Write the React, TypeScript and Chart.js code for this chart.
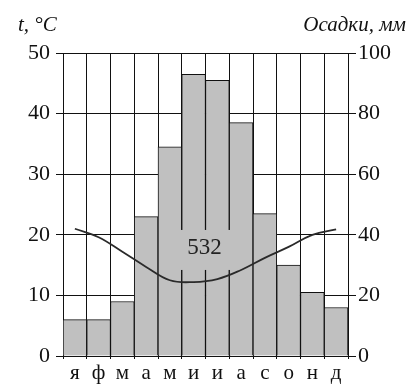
import React, { useEffect, useRef } from "react";
import { Chart, registerables } from "chart.js";

Chart.register(...registerables);

const months = ["я", "ф", "м", "а", "м", "и", "и", "а", "с", "о", "н", "д"];
const precipitation = [12, 12, 18, 46, 69, 93, 91, 77, 47, 30, 21, 16];
const temperature = [21, 19.6, 17.2, 14.7, 12.5, 12.2, 12.7, 14.2, 16.2, 18, 20, 20.9];
const tempTicks = [0, 10, 20, 30, 40, 50];
const precipTicks = [0, 20, 40, 60, 80, 100];
const totalLabel = "532";
const leftTitle = "t, °C";
const rightTitle = "Осадки, мм";

const SERIF = '"Liberation Serif", "Times New Roman", serif';

export default function App() {
  const ref = useRef<HTMLCanvasElement | null>(null);

  useEffect(() => {
    if (!ref.current) return;

    const labelBox = {
      id: "labelBox",
      afterDatasetDraw(chart: any, args: any) {
        if (args.index !== 1) return;
        const { ctx, scales } = chart;
        const x = scales.x;
        const y = scales.y;
        const x0 = x.getPixelForValue(4) + 2;
        const x1 = x.getPixelForValue(7) + 1;
        const y0 = y.getPixelForValue(20.8);
        const y1 = y.getPixelForValue(14.2);
        ctx.save();
        ctx.fillStyle = "#c0c0c0";
        ctx.fillRect(x0, y0, x1 - x0, y1 - y0);
        ctx.fillStyle = "#222";
        ctx.font = `23px ${SERIF}`;
        ctx.textAlign = "center";
        ctx.textBaseline = "middle";
        ctx.fillText(totalLabel, (x.getPixelForValue(5) + x.getPixelForValue(6)) / 2 - 1, y.getPixelForValue(17.9));
        ctx.restore();
      },
      afterDraw(chart: any) {
        const { ctx } = chart;
        ctx.save();
        ctx.fillStyle = "#111";
        ctx.font = `italic 21px ${SERIF}`;
        ctx.textBaseline = "alphabetic";
        ctx.textAlign = "left";
        ctx.fillText(leftTitle, 18, 31);
        ctx.textAlign = "right";
        ctx.fillText(rightTitle, 406, 31);
        ctx.restore();
      },
    };

    const chart = new Chart(ref.current, {
      type: "bar",
      data: {
        labels: months,
        datasets: [
          {
            type: "line",
            data: temperature,
            yAxisID: "y",
            borderColor: "#2a2a2a",
            borderWidth: 1.8,
            pointRadius: 0,
            tension: 0.4,
            fill: false,
          } as any,
          {
            type: "bar",
            data: precipitation,
            yAxisID: "y1",
            backgroundColor: "#c0c0c0",
            borderColor: "#111",
            borderWidth: 1,
            borderSkipped: "bottom",
            barPercentage: 1,
            categoryPercentage: 1,
          },
        ],
      },
      plugins: [labelBox],
      options: {
        responsive: false,
        animation: false,
        layout: { padding: { top: 53, left: 0, right: 0, bottom: 0 } },
        plugins: {
          legend: { display: false },
          tooltip: { enabled: false },
        },
        scales: {
          x: {
            offset: true,
            grid: {
              display: true,
              offset: true,
              color: "#111",
              lineWidth: 1,
              drawTicks: true,
              tickLength: 3,
            },
            border: { display: true, color: "#111" },
            ticks: {
              color: "#111",
              font: { family: SERIF, size: 21 },
              padding: 2,
              maxRotation: 0,
              autoSkip: false,
            },
            afterFit: (s: any) => {
              s.height = 32;
            },
          },
          y: {
            position: "left",
            min: 0,
            max: 50,
            afterBuildTicks: (s: any) => {
              s.ticks = tempTicks.map((v) => ({ value: v }));
            },
            grid: {
              color: "#111",
              lineWidth: 1,
              drawTicks: true,
              tickLength: 7,
            },
            border: { display: true, color: "#111" },
            ticks: {
              color: "#111",
              font: { family: SERIF, size: 22 },
              padding: 6,
            },
            afterFit: (s: any) => {
              s.width = 63;
            },
          },
          y1: {
            position: "right",
            min: 0,
            max: 100,
            afterBuildTicks: (s: any) => {
              s.ticks = precipTicks.map((v) => ({ value: v }));
            },
            grid: {
              drawOnChartArea: false,
              color: "#111",
              lineWidth: 1,
              drawTicks: true,
              tickLength: 8,
            },
            border: { display: true, color: "#111" },
            ticks: {
              color: "#111",
              font: { family: SERIF, size: 22 },
              padding: 2,
            },
            afterFit: (s: any) => {
              s.width = 70;
            },
          },
        },
      },
    });

    return () => chart.destroy();
  }, []);

  return (
    <div style={{ position: "fixed", left: 0, top: 0, width: 418, height: 388, background: "#fff" }}>
      <canvas ref={ref} width={418} height={388} />
    </div>
  );
}
